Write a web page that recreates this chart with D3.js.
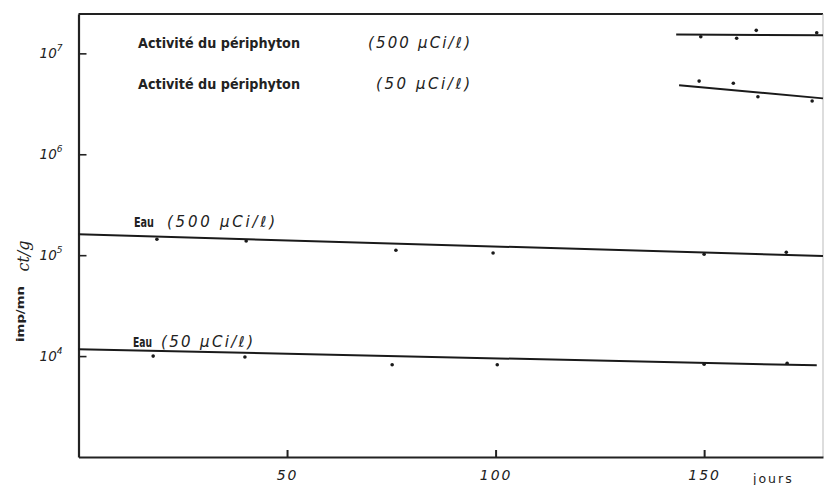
<!DOCTYPE html>
<html>
<head>
<meta charset="utf-8">
<script src="https://cdn.jsdelivr.net/npm/d3@7"></script>
<style>
  body { margin: 0; background: #fff; }
  svg { display: block; }
  text { fill: #222; }
</style>
</head>
<body>
<svg id="chart" width="825" height="485"></svg>
<script>
// measured points (jours, imp/mn)
const eau500Days = [18.8, 40.2, 76.1, 99.4, 150, 169.7];
const eau500Vals = [1.44e5, 1.38e5, 1.12e5, 1.05e5, 1.02e5, 1.07e5];
const eau50Days = [17.9, 39.9, 75.2, 100.4, 150, 169.9];
const eau50Vals = [1.0e4, 9.8e3, 8.2e3, 8.2e3, 8.3e3, 8.5e3];
const peri500Days = [149.2, 157.8, 162.5, 177];
const peri500Vals = [1.46e7, 1.41e7, 1.69e7, 1.6e7];
const peri50Days = [148.8, 157, 162.9, 175.9];
const peri50Vals = [5.31e6, 5.05e6, 3.72e6, 3.37e6];

// fitted lines (start, end)
const eau500FitDays = [0, 178.5];
const eau500FitVals = [1.61e5, 0.98e5];
const eau50FitDays = [0, 177];
const eau50FitVals = [1.17e4, 8.1e3];
const peri500FitDays = [143.3, 178.5];
const peri500FitVals = [1.54e7, 1.51e7];
const peri50FitDays = [144, 178.5];
const peri50FitVals = [4.82e6, 3.58e6];

const xTicks = [50, 100, 150];
const yTicks = [1e4, 1e5, 1e6, 1e7];
const yExponents = ['4', '5', '6', '7'];

const svg = d3.select('#chart');
const mLeft = 78.5, mRight = 823, mTop = 14, mBottom = 457;

const x = d3.scaleLinear().domain([0, 178.5]).range([mLeft, mRight]);
const y = d3.scaleLog().domain([1e3, Math.pow(10, 7.39)]).range([mBottom, mTop]);

// frame
svg.append('line')
  .attr('x1', mLeft).attr('x2', mRight).attr('y1', mTop).attr('y2', mTop)
  .attr('stroke', '#222').attr('stroke-width', 2);
svg.append('line')
  .attr('x1', mRight).attr('x2', mRight).attr('y1', mTop).attr('y2', mBottom)
  .attr('stroke', '#bbb').attr('stroke-width', 1);

const xAxis = svg.append('g')
  .attr('transform', `translate(0,${mBottom})`)
  .call(d3.axisBottom(x).tickValues(xTicks).tickSizeInner(-7).tickSizeOuter(0).tickPadding(13));
xAxis.select('.domain').attr('stroke', '#222').attr('stroke-width', 2.2);
xAxis.selectAll('.tick line').attr('stroke', '#222').attr('stroke-width', 2);
xAxis.selectAll('.tick text')
  .attr('font-family', 'DejaVu Sans').attr('font-style', 'italic')
  .attr('font-size', 14).attr('letter-spacing', 2).attr('fill', '#333');

const yAxis = svg.append('g')
  .attr('transform', `translate(${mLeft},0)`)
  .call(d3.axisLeft(y).tickValues(yTicks).tickSizeInner(-8).tickSizeOuter(0).tickPadding(16).tickFormat(() => '10'));
yAxis.select('.domain').attr('stroke', '#222').attr('stroke-width', 2.2);
yAxis.selectAll('.tick line').attr('stroke', '#222').attr('stroke-width', 1.6);
yAxis.selectAll('.tick text')
  .attr('font-family', 'DejaVu Sans').attr('font-style', 'italic')
  .attr('font-size', 13.5).attr('fill', '#444')
  .each(function (d, i) {
    d3.select(this).append('tspan')
      .attr('dy', -7).attr('font-size', 9).text(yExponents[i]);
  });

// axis titles
svg.append('text')
  .attr('transform', 'translate(24,314) rotate(-90)')
  .attr('text-anchor', 'middle')
  .attr('font-family', 'DejaVu Sans').attr('font-weight', 'bold')
  .attr('font-size', 11).attr('textLength', 56).attr('lengthAdjust', 'spacingAndGlyphs')
  .text('imp/mn');
svg.append('text')
  .attr('transform', 'translate(29,256) rotate(-90)')
  .attr('text-anchor', 'middle')
  .attr('font-family', 'DejaVu Serif').attr('font-style', 'italic')
  .attr('font-size', 16)
  .text('ct/g');
svg.append('text')
  .attr('x', 753).attr('y', 483)
  .attr('font-family', 'DejaVu Sans')
  .attr('font-size', 12.5).attr('letter-spacing', 2).attr('fill', '#333')
  .text('jours');

// series
const series = [
  { days: eau500Days, vals: eau500Vals, fitDays: eau500FitDays, fitVals: eau500FitVals },
  { days: eau50Days, vals: eau50Vals, fitDays: eau50FitDays, fitVals: eau50FitVals },
  { days: peri500Days, vals: peri500Vals, fitDays: peri500FitDays, fitVals: peri500FitVals },
  { days: peri50Days, vals: peri50Vals, fitDays: peri50FitDays, fitVals: peri50FitVals },
];

const line = d3.line().x((d) => x(d[0])).y((d) => y(d[1]));

series.forEach((s) => {
  svg.append('path')
    .datum(d3.zip(s.fitDays, s.fitVals))
    .attr('d', line)
    .attr('fill', 'none').attr('stroke', '#1a1a1a').attr('stroke-width', 2);
  svg.append('g')
    .selectAll('circle')
    .data(d3.zip(s.days, s.vals))
    .join('circle')
    .attr('cx', (d) => x(d[0]))
    .attr('cy', (d) => y(d[1]))
    .attr('r', 1.8)
    .attr('fill', '#1a1a1a');
});

// labels
function label(xp, yp, bold, ital, boldLen, italX, italLen) {
  const t = svg.append('text').attr('x', xp).attr('y', yp)
    .attr('font-family', 'DejaVu Sans');
  t.append('tspan').attr('font-weight', 'bold').attr('font-size', 13.5)
    .attr('textLength', boldLen).attr('lengthAdjust', 'spacingAndGlyphs').text(bold);
  t.append('tspan').attr('x', italX)
    .attr('font-style', 'italic').attr('font-size', 15)
    .attr('textLength', italLen).attr('lengthAdjust', 'spacing').text(ital);
}

label(138, 48, 'Activité du périphyton', '(500 µCi/ℓ)', 162, 368, 102);
label(138, 89, 'Activité du périphyton', '(50 µCi/ℓ)', 162, 376, 94);
label(134, 227, 'Eau', '(500 µCi/ℓ)', 20, 167, 108);
label(133, 347, 'Eau', '(50 µCi/ℓ)', 19, 161, 92);
</script>
</body>
</html>
